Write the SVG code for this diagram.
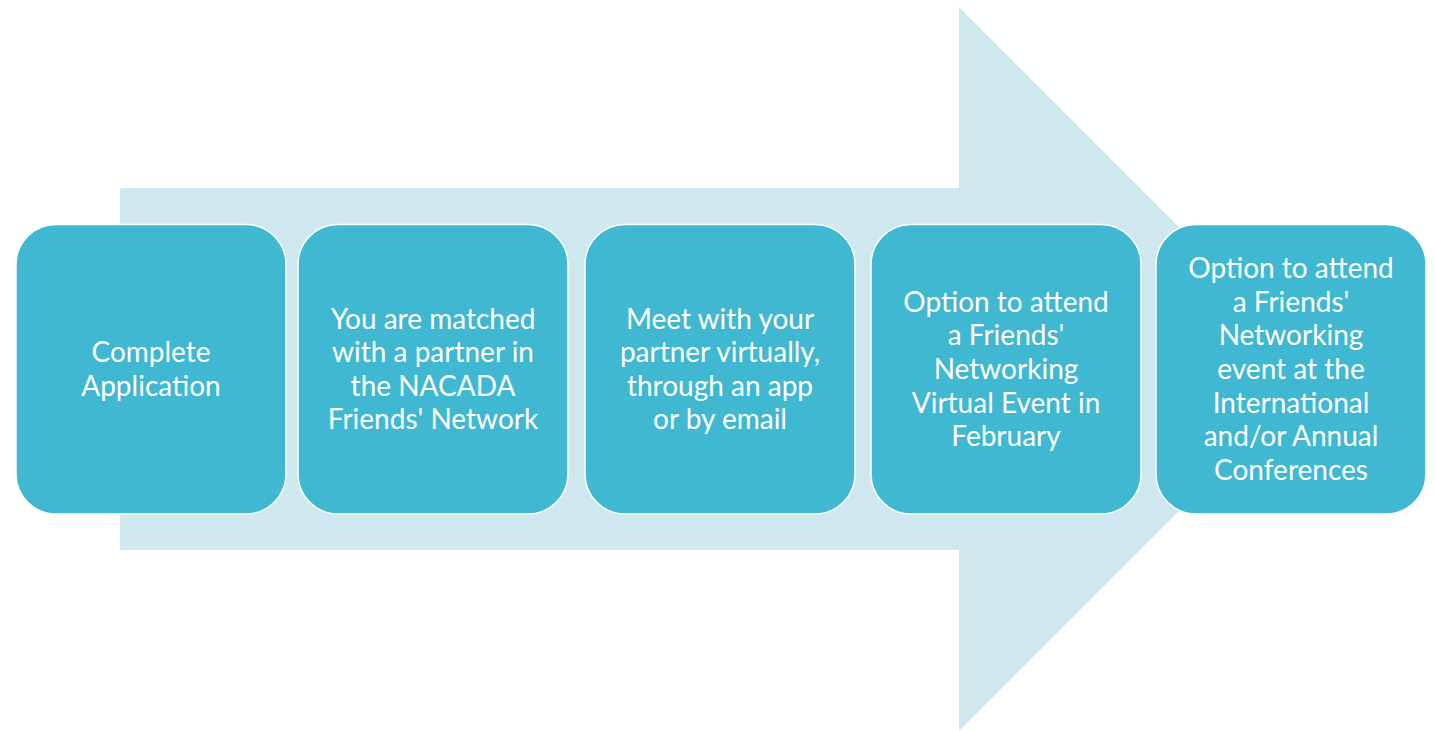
<svg xmlns="http://www.w3.org/2000/svg" width="1435" height="731" viewBox="0 0 1435 731">
<style>
.arrow{fill:#CFE7EE}
.box{fill:#41B8D2;stroke:#FFFFFF;stroke-width:1.5}
.t{font-family:Lato,"Open Sans",sans-serif;font-size:28px;fill:#FFFFFF;text-anchor:middle}
</style>
<rect width="1435" height="731" fill="#FFFFFF"/>
<g id="connectors">
<polygon class="arrow" points="120,188 959,188 959,7 1321,369 959,731 959,550 120,550"/>
</g>
<g id="step1">
<rect class="box" x="16" y="224.5" width="270" height="289.5" rx="40"/>
<text class="t"><tspan x="151" y="362">Complete</tspan><tspan x="151" y="395.6">Application</tspan></text>
</g>
<g id="step2">
<rect class="box" x="298" y="224.5" width="270" height="289.5" rx="40"/>
<text class="t"><tspan x="433" y="328.6">You are matched</tspan><tspan x="433" y="362.2">with a partner in</tspan><tspan x="433" y="395.8">the NACADA</tspan><tspan x="433" y="429.4">Friends' Network</tspan></text>
</g>
<g id="step3">
<rect class="box" x="585" y="224.5" width="270" height="289.5" rx="40"/>
<text class="t"><tspan x="720" y="328.6">Meet with your</tspan><tspan x="720" y="362.2">partner virtually,</tspan><tspan x="720" y="395.8">through an app</tspan><tspan x="720" y="429.4">or by email</tspan></text>
</g>
<g id="step4">
<rect class="box" x="871" y="224.5" width="270" height="289.5" rx="40"/>
<text class="t"><tspan x="1006" y="311.8">Option to attend</tspan><tspan x="1006" y="345.4">a Friends'</tspan><tspan x="1006" y="379">Networking</tspan><tspan x="1006" y="412.6">Virtual Event in</tspan><tspan x="1006" y="446.2">February</tspan></text>
</g>
<g id="step5">
<rect class="box" x="1156" y="224.5" width="270" height="289.5" rx="40"/>
<text class="t"><tspan x="1291" y="278.2">Option to attend</tspan><tspan x="1291" y="311.8">a Friends'</tspan><tspan x="1291" y="345.4">Networking</tspan><tspan x="1291" y="379">event at the</tspan><tspan x="1291" y="412.6">International</tspan><tspan x="1291" y="446.2">and/or Annual</tspan><tspan x="1291" y="479.8">Conferences</tspan></text>
</g>
</svg>
